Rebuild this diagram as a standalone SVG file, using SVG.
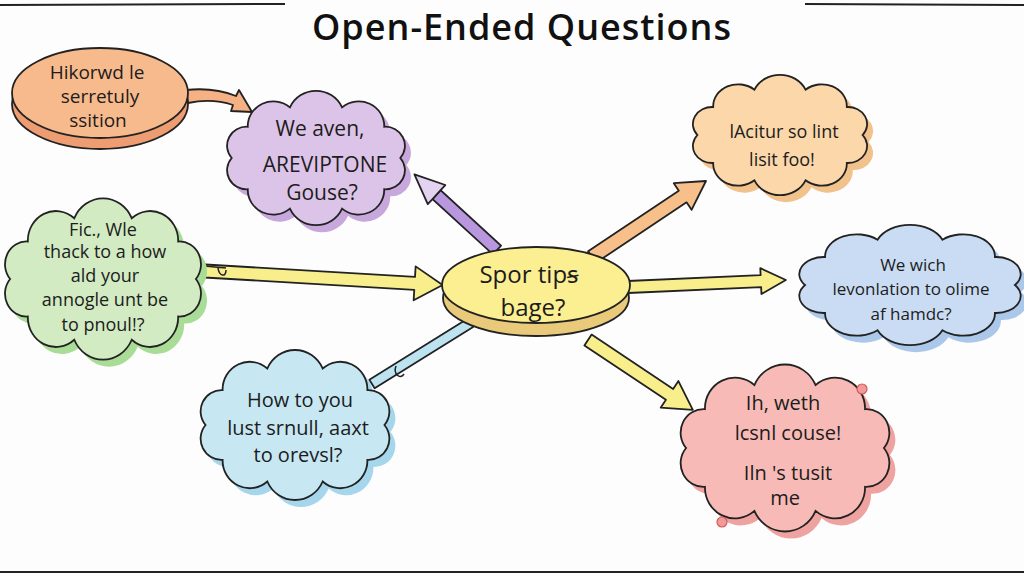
<svg xmlns="http://www.w3.org/2000/svg" xmlns:xlink="http://www.w3.org/1999/xlink" width="1024" height="576" viewBox="0 0 1024 576">
<style>
  .t { font-family: "Open Sans", "Noto Sans", "DejaVu Sans", sans-serif; fill: #1c1c1c; text-anchor: middle; }
  .title { font-family: "Open Sans", "Noto Sans", sans-serif; font-weight: 600; font-size: 36px; letter-spacing: 1px; fill: #111; text-anchor: middle; }
  .edge { stroke: #222; stroke-width: 1.8; stroke-linejoin: round; }
  .rule { stroke: #222; stroke-width: 2; fill: none; }
</style>
<defs>
  <path id="cloud" vector-effect="non-scaling-stroke" d="M86,0 A20,20 0 0 1 69.6,32.9 A26,26 0 0 1 26.6,53.3 A29,29 0 0 1 -26.6,53.3 A26,26 0 0 1 -69.6,32.9 A20,20 0 0 1 -86,0 A20,20 0 0 1 -69.6,-32.9 A26,26 0 0 1 -26.6,-53.3 A29,29 0 0 1 26.6,-53.3 A26,26 0 0 1 69.6,-32.9 A20,20 0 0 1 86,0 Z"/>
</defs>
<rect width="1024" height="576" fill="#fdfdfd"/>

<g id="title">
  <line class="rule" x1="0" y1="5" x2="285" y2="4"/>
  <line class="rule" x1="805" y1="4" x2="1024" y2="5"/>
  <line class="rule" x1="0" y1="572" x2="1024" y2="572"/>
  <text class="title" x="522" y="40">Open-Ended Questions</text>
</g>

<g id="connectors">
  <path class="edge" fill="#f5b183" d="M186,90 Q214,87 236,96 L239,90 L252,112 L231,111 L233,105 Q212,98 188,103 Z"/>
  <g transform="translate(497,250) rotate(222.5)">
    <polygon class="edge" fill="#b897de" points="0,-6 82,-6 82,6 0,6"/>
    <polygon class="edge" fill="#e3d3f0" points="82,-6 82,-13 112,0 82,13 82,6"/>
  </g>
  <g transform="translate(205,271) rotate(3.37)">
    <polygon class="edge" fill="#f8ef8c" points="0,-6.5 210,-6.5 210,-17 238,0 210,17 210,6.5 0,6.5"/>
  </g>
  <path d="M204,266 L226,268 M218,268 C219,276 226,278 226,270" fill="none" stroke="#222" stroke-width="1.5"/>
  <g transform="translate(372,384) rotate(-31.9)">
    <polygon class="edge" fill="#bde3f1" points="0,-5 116,-5 116,5 0,5"/>
  </g>
  <path d="M396,366 C393,374 400,380 404,374" fill="none" stroke="#222" stroke-width="1.5"/>
  <g transform="translate(592,257) rotate(-33.7)">
    <polygon class="edge" fill="#f7bf8a" points="0,-7 109,-7 109,-16 137,0 109,16 109,7 0,7"/>
  </g>
  <g transform="translate(628,287) rotate(-2.54)">
    <polygon class="edge" fill="#f8ef8c" points="0,-6 133,-6 133,-13 158,0 133,13 133,6 0,6"/>
  </g>
  <g transform="translate(588,340) rotate(33.7)">
    <polygon class="edge" fill="#f8ef8c" points="0,-6.5 98,-6.5 98,-16 126,0 98,16 98,6.5 0,6.5"/>
  </g>
</g>

<g id="node-orange-disc">
  <ellipse cx="100" cy="104" rx="88" ry="45" fill="#ee9c72" stroke="#222" stroke-width="1.8"/>
  <ellipse cx="100" cy="93" rx="88" ry="45" fill="#f7ba8c" stroke="#222" stroke-width="1.8"/>
  <text class="t" font-size="19" x="97" y="79">Hikorwd le</text>
  <text class="t" font-size="19" x="100" y="103">serretuly</text>
  <text class="t" font-size="19" x="98" y="127">ssition</text>
</g>

<g id="node-purple">
  <use xlink:href="#cloud" transform="translate(322,165) scale(0.98,0.95)" fill="#c8a7dc"/>
  <use xlink:href="#cloud" transform="translate(316,158) scale(0.98,0.95)" fill="#dcc4e9" stroke="#222" stroke-width="1.8"/>
  <text class="t" font-size="21" x="320" y="136">We aven,</text>
  <text class="t" font-size="21" x="325" y="172">AREVIPTONE</text>
  <text class="t" font-size="21" x="322" y="200">Gouse?</text>
</g>

<g id="node-green">
  <use xlink:href="#cloud" transform="translate(109,286) scale(1.08,1.14)" fill="#a9dc96"/>
  <use xlink:href="#cloud" transform="translate(103,279) scale(1.08,1.14)" fill="#d2ebc3" stroke="#222" stroke-width="1.8"/>
  <text class="t" font-size="18" x="103" y="236">Fic., Wle</text>
  <text class="t" font-size="18" x="105" y="258">thack to a how</text>
  <text class="t" font-size="18" x="105" y="282">ald your</text>
  <text class="t" font-size="18" x="105" y="306">annogle unt be</text>
  <text class="t" font-size="18" x="103" y="331">to pnoul!?</text>
</g>

<g id="node-blue-left">
  <use xlink:href="#cloud" transform="translate(301,432) scale(1.04,1.06)" fill="#a6d6ec"/>
  <use xlink:href="#cloud" transform="translate(295,425) scale(1.04,1.06)" fill="#c7e7f3" stroke="#222" stroke-width="1.8"/>
  <text class="t" font-size="20" x="300" y="407">How to you</text>
  <text class="t" font-size="20" x="298" y="435">lust srnull, aaxt</text>
  <text class="t" font-size="20" x="298" y="462">to orevsl?</text>
</g>

<g id="node-center">
  <ellipse cx="536" cy="298" rx="93" ry="38" fill="#e9c97a" stroke="#222" stroke-width="1.8"/>
  <ellipse cx="536" cy="285" rx="94" ry="38" fill="#fbef91" stroke="#222" stroke-width="1.8"/>
  <text class="t" font-size="24" x="529" y="283">Spor tipꞩ</text>
  <text class="t" font-size="24" x="533" y="316">bage?</text>
</g>

<g id="node-orange-cloud">
  <use xlink:href="#cloud" transform="translate(786,142) scale(0.96,0.85)" fill="#f2c28c"/>
  <use xlink:href="#cloud" transform="translate(780,135) scale(0.96,0.85)" fill="#fbd7aa" stroke="#222" stroke-width="1.8"/>
  <text class="t" font-size="18" x="784" y="138">lAcitur so lint</text>
  <text class="t" font-size="18" x="782" y="166">lisit foo!</text>
</g>

<g id="node-blue-right">
  <use xlink:href="#cloud" transform="translate(916,292) scale(1.22,0.85)" fill="#abc7ea"/>
  <use xlink:href="#cloud" transform="translate(910,285) scale(1.22,0.85)" fill="#cadcf3" stroke="#222" stroke-width="1.8"/>
  <text class="t" font-size="17" x="913" y="271">We wich</text>
  <text class="t" font-size="17" x="911" y="295">levonlation to olime</text>
  <text class="t" font-size="17" x="911" y="320">af hamdc?</text>
</g>

<g id="node-pink">
  <use xlink:href="#cloud" transform="translate(791,455) scale(1.15,1.18)" fill="#eea3a0"/>
  <use xlink:href="#cloud" transform="translate(785,448) scale(1.15,1.18)" fill="#f7bab6" stroke="#222" stroke-width="1.8"/>
  <circle cx="862" cy="389" r="5" fill="#f09a9a" stroke="#d45a5a" stroke-width="1.2"/>
  <circle cx="722" cy="522" r="5" fill="#f09a9a" stroke="#d45a5a" stroke-width="1.2"/>
  <text class="t" font-size="20" x="783" y="410">Ih, weth</text>
  <text class="t" font-size="20" x="788" y="440">lcsnl couse!</text>
  <text class="t" font-size="20" x="788" y="480">Iln 's tusit</text>
  <text class="t" font-size="20" x="785" y="505">me</text>
</g>
</svg>
